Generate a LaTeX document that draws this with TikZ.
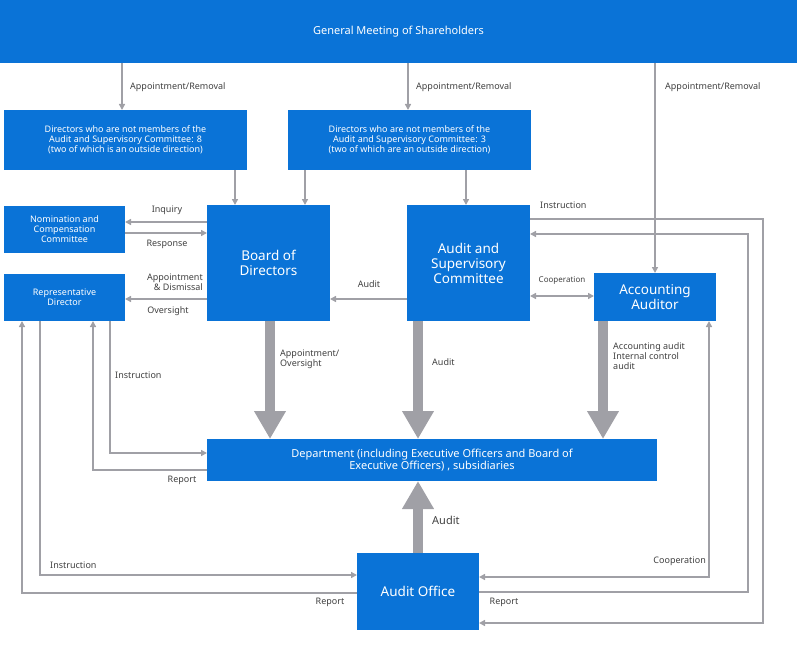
\documentclass[tikz,border=0pt]{standalone}
\usepackage{fontspec}
\setmainfont{Noto Sans}
\usetikzlibrary{arrows.meta}
\definecolor{bl}{RGB}{10,115,215}
\definecolor{gr}{RGB}{160,160,166}
\begin{document}
\begin{tikzpicture}[x=1pt,y=-1pt,
  box/.style={fill=bl,text=white,inner sep=0pt,align=center},
  ln/.style={draw=gr,line width=1.6pt,-{Triangle[length=6pt,width=6pt]}},
  ln2/.style={draw=gr,line width=1.6pt,{Triangle[length=6pt,width=6pt]}-{Triangle[length=6pt,width=6pt]}},
  thick/.style={draw=gr,line width=10pt,-{Triangle[length=28pt,width=30pt]}},
  lbl/.style={font=\fontsize{9}{10}\selectfont,text=black!75,inner sep=0pt},
  sm/.style={font=\fontsize{9}{10}\selectfont},
  md/.style={font=\fontsize{11}{12}\selectfont},
  lg/.style={font=\fontsize{13.5}{15}\selectfont}]
\useasboundingbox (0,0) rectangle (797,650);
\node[box,md,minimum width=797,minimum height=63] (gm) at (398.5,31.5) {General Meeting of Shareholders};
\node[box,sm,minimum width=243,minimum height=60] (d8) at (125.5,140) {Directors who are not members of the\\Audit and Supervisory Committee: 8\\(two of which is an outside direction)};
\node[box,sm,minimum width=243,minimum height=60] (d3) at (409.5,140) {Directors who are not members of the\\Audit and Supervisory Committee: 3\\(two of which are an outside direction)};
\node[box,sm,minimum width=121,minimum height=47] (ncc) at (64.5,229.5) {Nomination and\\Compensation\\Committee};
\node[box,sm,minimum width=121,minimum height=47] (rep) at (64.5,297.5) {Representative\\Director};
\node[box,lg,minimum width=123,minimum height=116] (bod) at (268.5,263) {Board of\\Directors};
\node[box,lg,minimum width=123,minimum height=116] (asc) at (468.5,263) {Audit and\\Supervisory\\Committee};
\node[box,lg,minimum width=122,minimum height=48] (acc) at (655,297) {Accounting\\Auditor};
\node[box,md,minimum width=450,minimum height=42] (dep) at (432,460) {Department (including Executive Officers and Board of\\Executive Officers) , subsidiaries};
\node[box,lg,minimum width=122,minimum height=77] (ao) at (418,591.5) {Audit Office};
% from GM
\draw[ln] (122,63) -- (122,110); \node[lbl,anchor=west] at (130,87) {Appointment/Removal};
\draw[ln] (408,63) -- (408,110); \node[lbl,anchor=west] at (416,87) {Appointment/Removal};
\draw[ln] (655,63) -- (655,273); \node[lbl,anchor=west] at (665,87) {Appointment/Removal};
\coordinate (x) at (0,0);
\draw[ln] (235,170) -- (235,205);
\draw[ln] (305,170) -- (305,205);
\draw[ln] (466,170) -- (466,205);
% NCC
\draw[ln] (207,222) -- (125,222); \node[lbl] at (167,210) {Inquiry};
\draw[ln] (125,233) -- (207,233); \node[lbl] at (167,244) {Response};
% Rep
\draw[ln] (207,299) -- (125,299);
\node[lbl,align=right,anchor=east] at (203,282) {Appointment\\\& Dismissal};
\node[lbl] at (168,311) {Oversight};
\draw[ln] (407,299) -- (330,299); \node[lbl] at (369,284) {Audit};
\draw[ln2] (530,296) -- (594,296); \node[lbl,font=\fontsize{8}{9}\selectfont] at (562,281) {Cooperation};
% thick
\draw[thick] (270,321) -- (270,439);
\node[lbl,align=left,anchor=north west] at (280,350) {Appointment/\\Oversight};
\draw[thick] (418,321) -- (418,439); \node[lbl,anchor=west] at (432,362) {Audit};
\draw[thick] (603,321) -- (603,439);
\node[lbl,align=left,anchor=north west] at (613,342) {Accounting audit\\Internal control\\audit};
\draw[thick] (418,553) -- (418,481); \node[lbl,font=\fontsize{11}{12}\selectfont,anchor=west] at (432,520) {Audit};
% Rep - Dept
\draw[ln] (110,321) |- (207,453); \node[lbl,anchor=west] at (115,375) {Instruction};
\draw[ln] (207,470) -| (93,321); \node[lbl] at (182,480) {Report};
% Rep - AO
\draw[ln] (40,321) |- (357,575); \node[lbl,anchor=west] at (50,565) {Instruction};
\draw[ln] (357,593) -| (22,321); \node[lbl] at (330,602) {Report};
% ASC - AO
\draw[ln] (530,219) -| (763,623) -- (479,623); \node[lbl,anchor=west] at (540,205) {Instruction};
\draw[ln] (479,592) -| (748,234) -- (530,234); \node[lbl] at (504,602) {Report};
% Acc - AO
\draw[ln2] (479,577) -| (709,321); \node[lbl,anchor=east] at (706,561) {Cooperation};
\end{tikzpicture}
\end{document}
